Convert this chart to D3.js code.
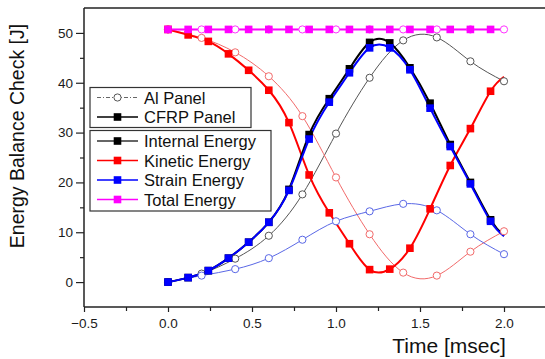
<!DOCTYPE html>
<html>
<head>
<meta charset="utf-8">
<script src="https://cdn.jsdelivr.net/npm/d3@7/dist/d3.min.js"></script>
<style>
  html, body { margin: 0; padding: 0; background: #fff; }
  svg { display: block; font-family: "Liberation Sans", Arial, sans-serif; }
</style>
</head>
<body>
<svg id="chart" width="545" height="359"></svg>
<script>
// ---------- data ----------
const tCFRP = [0, 0.12, 0.24, 0.36, 0.48, 0.6, 0.72, 0.84, 0.96, 1.08, 1.2, 1.32, 1.44, 1.56, 1.68, 1.8, 1.92, 2.0];
const cfrpInternal = [0, 0.9, 2.3, 4.8, 8.0, 12.0, 18.6, 29.6, 36.8, 42.8, 48.1, 48.0, 43.0, 35.9, 27.6, 20.0, 12.5, 9.3];
const cfrpKinetic  = [50.7, 49.6, 48.3, 45.8, 42.5, 38.5, 32.0, 21.5, 13.9, 7.7, 2.5, 2.6, 6.8, 14.7, 23.4, 30.8, 38.3, 41.2];
const cfrpStrain   = [0, 0.9, 2.3, 4.8, 8.0, 12.0, 18.4, 28.7, 36.1, 42.0, 47.0, 47.0, 42.6, 34.9, 27.2, 19.7, 12.2, 9.2];
const cfrpTotal    = [50.7, 50.7, 50.7, 50.7, 50.7, 50.7, 50.7, 50.7, 50.7, 50.7, 50.7, 50.7, 50.7, 50.7, 50.7, 50.7, 50.7, 50.7];

const tAl = [0, 0.2, 0.4, 0.6, 0.8, 1.0, 1.2, 1.4, 1.6, 1.8, 2.0];
const alInternal = [0, 1.7, 4.7, 9.3, 17.6, 29.8, 41.0, 48.5, 49.1, 44.3, 40.3];
const alKinetic  = [50.7, 49.0, 46.1, 41.3, 33.3, 21.0, 9.6, 1.9, 1.3, 6.1, 10.2];
const alStrain   = [0, 1.3, 2.6, 4.8, 8.5, 12.2, 14.2, 15.7, 14.4, 9.6, 5.6];
const alTotal    = [50.7, 50.7, 50.7, 50.7, 50.7, 50.7, 50.7, 50.7, 50.7, 50.7, 50.7];

const xMajorTicks = [-0.5, 0.0, 0.5, 1.0, 1.5, 2.0];
const xMinorTicks = [-0.25, 0.25, 0.75, 1.25, 1.75, 2.25];
const yMajorTicks = [0, 10, 20, 30, 40, 50];
const yMinorTicks = [5, 15, 25, 35, 45];

const panelLegend = ["Al Panel", "CFRP Panel"];
const energyLegend = ["Internal Energy", "Kinetic Energy", "Strain Energy", "Total Energy"];

// ---------- layout ----------
const svg = d3.select("#chart");
const x = d3.scaleLinear().domain([-0.5, 2.25]).range([84, 546]);
const y = d3.scaleLinear().domain([-5, 55]).range([307, 8]);

const col = {
  internal: "#000000", kinetic: "#ff0000", strain: "#0000ff", total: "#ff00ff",
  alInternal: "#555555", alKinetic: "#f26a6a", alStrain: "#5a68e6", alTotal: "#ff33ff"
};

// frame top
svg.append("line").attr("x1", x(-0.5)).attr("x2", 545).attr("y1", y(55)).attr("y2", y(55))
  .attr("stroke", "#222").attr("stroke-width", 1.5);

// axes
const fmt = d3.format(".1f");
const gx = svg.append("g").attr("transform", `translate(0,${y(-5)})`)
  .call(d3.axisBottom(x).tickValues(xMajorTicks).tickFormat(fmt).tickSize(5).tickPadding(6));
svg.append("g").attr("transform", `translate(0,${y(-5)})`)
  .call(d3.axisBottom(x).tickValues(xMinorTicks).tickFormat("").tickSize(4))
  .call(g => g.select(".domain").remove());
const gy = svg.append("g").attr("transform", `translate(${x(-0.5)},0)`)
  .call(d3.axisLeft(y).tickValues(yMajorTicks).tickFormat(d3.format("d")).tickSize(8).tickPadding(3));
svg.append("g").attr("transform", `translate(${x(-0.5)},0)`)
  .call(d3.axisLeft(y).tickValues(yMinorTicks).tickFormat("").tickSize(4))
  .call(g => g.select(".domain").remove());

svg.selectAll(".domain").attr("stroke", "#222").attr("stroke-width", 1.5);
svg.selectAll(".tick line").attr("stroke", "#222").attr("stroke-width", 1.2);
svg.selectAll(".tick text").attr("font-size", 13.5).attr("fill", "#1a1a1a")
  .attr("font-family", '"Liberation Sans", Arial, sans-serif');
gy.select(".domain").attr("d", `M0,${y(-5)}V${y(55)}`);
gx.select(".domain").attr("d", `M${x(-0.5)},0H545`);

// axis titles
svg.append("text").attr("transform", `translate(24,136) rotate(-90)`)
  .attr("text-anchor", "middle").attr("font-size", 19.5).attr("fill", "#111")
  .text("Energy Balance Check [J]");
svg.append("text").attr("x", 449).attr("y", 353)
  .attr("text-anchor", "middle").attr("font-size", 21).attr("fill", "#111")
  .text("Time [msec]");

// ---------- series ----------
const line = d3.line().curve(d3.curveNatural).x(d => x(d[0])).y(d => y(d[1]));
const zipT = (t, v) => t.map((tt, i) => [tt, v[i]]);

const alSeries = [
  { v: alInternal, c: col.alInternal },
  { v: alKinetic, c: col.alKinetic },
  { v: alStrain, c: col.alStrain },
  { v: alTotal, c: col.alTotal }
];
const cfrpSeries = [
  { v: cfrpKinetic, c: col.kinetic },
  { v: cfrpTotal, c: col.total },
  { v: cfrpInternal, c: col.internal },
  { v: cfrpStrain, c: col.strain }
];

alSeries.forEach(s => {
  const pts = zipT(tAl, s.v);
  svg.append("path").attr("d", line(pts)).attr("fill", "none")
    .attr("stroke", s.c).attr("stroke-width", 1);
});

cfrpSeries.forEach(s => {
  const pts = zipT(tCFRP, s.v);
  svg.append("path").attr("d", line(pts)).attr("fill", "none")
    .attr("stroke", s.c).attr("stroke-width", 2);
});

// Al markers
alSeries.forEach(s => {
  const pts = zipT(tAl, s.v);
  svg.append("g").selectAll("circle").data(pts).join("circle")
    .attr("cx", d => x(d[0])).attr("cy", d => y(d[1])).attr("r", 3.6)
    .attr("fill", "#fff").attr("stroke", s.c).attr("stroke-width", 1);
});
// CFRP markers (last sample drawn without marker)
cfrpSeries.forEach(s => {
  const pts = zipT(tCFRP, s.v).slice(0, -1);
  svg.append("g").selectAll("rect").data(pts).join("rect")
    .attr("x", d => x(d[0]) - 3.8).attr("y", d => y(d[1]) - 3.8)
    .attr("width", 7.6).attr("height", 7.6).attr("fill", s.c);
});

// ---------- legends ----------
function legendBox(x0, y0, w, h) {
  svg.append("rect").attr("x", x0).attr("y", y0).attr("width", w).attr("height", h)
    .attr("fill", "#fff").attr("stroke", "#333").attr("stroke-width", 1.2);
}
legendBox(90, 87.5, 161, 40);
legendBox(90, 130.5, 181, 80.5);

const lx1 = 97, lx2 = 138, lmx = 117.5, ltx = 144;
const panelStyles = [
  { c: "#666", dash: "4,2,1,2", marker: "circle" },
  { c: "#000", dash: null, marker: "square" }
];
panelLegend.forEach((name, i) => {
  const yy = 97.5 + i * 19.5;
  const st = panelStyles[i];
  svg.append("line").attr("x1", lx1).attr("x2", lx2).attr("y1", yy).attr("y2", yy)
    .attr("stroke", st.c).attr("stroke-width", st.marker === "circle" ? 1 : 1.6)
    .attr("stroke-dasharray", st.dash);
  if (st.marker === "circle") {
    svg.append("circle").attr("cx", lmx).attr("cy", yy).attr("r", 3.6)
      .attr("fill", "#fff").attr("stroke", "#555");
  } else {
    svg.append("rect").attr("x", lmx - 3.8).attr("y", yy - 3.8).attr("width", 7.6).attr("height", 7.6).attr("fill", "#000");
  }
  svg.append("text").attr("x", ltx).attr("y", yy + 6).attr("font-size", 16.5).attr("fill", "#111").text(name);
});

const energyColors = [col.internal, col.kinetic, col.strain, col.total];
energyLegend.forEach((name, i) => {
  const yy = 141 + i * 19.5;
  const c = energyColors[i];
  svg.append("line").attr("x1", lx1).attr("x2", lx2).attr("y1", yy).attr("y2", yy)
    .attr("stroke", i === 0 ? "#333" : c).attr("stroke-width", 1.4);
  svg.append("rect").attr("x", lmx - 3.8).attr("y", yy - 3.8).attr("width", 7.6).attr("height", 7.6).attr("fill", c);
  svg.append("text").attr("x", ltx).attr("y", yy + 6).attr("font-size", 16.5).attr("fill", "#111").text(name);
});
</script>
</body>
</html>
